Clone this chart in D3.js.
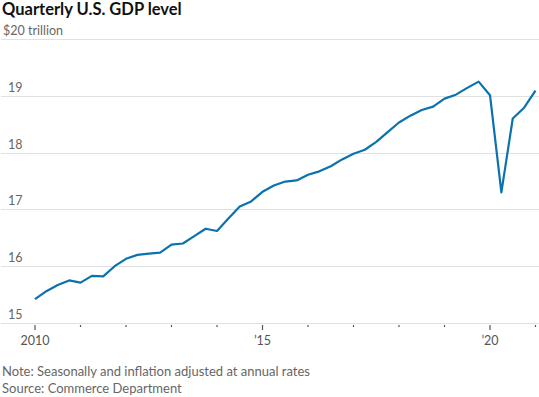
<!DOCTYPE html>
<html>
<head>
<meta charset="utf-8">
<script src="https://cdn.jsdelivr.net/npm/d3@7"></script>
<style>
  body { margin: 0; background: #fff; }
  svg { display: block; font-family: Lato, "Open Sans", sans-serif; }
  .grid line { stroke: #e1e1e1; stroke-width: 1; }
  .ylab { fill: #666; font-size: 12.5px; }
  .xlab { fill: #555; font-size: 12.5px; }
  .note { fill: #666; font-size: 13px; }
</style>
</head>
<body>
<div id="chart"></div>
<script>
var width = 539,
    height = 397;

// quarters, 2010 Q1 .. 2021 Q1, trillions of chained dollars
var startYear = 2010;
var gdp = [
  15.42, 15.56, 15.67, 15.75,
  15.71, 15.83, 15.82, 16.00,
  16.13, 16.20, 16.22, 16.24,
  16.38, 16.40, 16.53, 16.66,
  16.62, 16.84, 17.05, 17.14,
  17.31, 17.42, 17.49, 17.51,
  17.61, 17.67, 17.76, 17.88,
  17.98, 18.05, 18.19, 18.36,
  18.53, 18.65, 18.75, 18.81,
  18.95, 19.02, 19.14, 19.25,
  19.01, 17.30, 18.60, 18.79,
  19.09
];
var yTicks = [15, 16, 17, 18, 19, 20];
var years = [2010, 2011, 2012, 2013, 2014, 2015, 2016, 2017, 2018, 2019, 2020, 2021];
var yearLabels = {2010: "2010", 2015: "\u201915", 2020: "\u201920"};

var x = d3.scaleLinear()
    .domain([2010, 2021])
    .range([35, 535.5]);

var y = d3.scaleLinear()
    .domain([15, 20])
    .range([323, 39]);

var svg = d3.select("#chart").append("svg")
    .attr("width", width)
    .attr("height", height);

svg.append("text")
    .attr("x", 2)
    .attr("y", 15)
    .attr("font-size", "16.5px")
    .attr("font-weight", "bold")
    .attr("fill", "#111")
    .text("Quarterly U.S. GDP level");

// gridlines
svg.append("g")
    .attr("class", "grid")
    .selectAll("line")
    .data(yTicks)
    .enter().append("line")
    .attr("x1", 1)
    .attr("x2", width)
    .attr("y1", function (d) { return Math.round(y(d)) + 0.5; })
    .attr("y2", function (d) { return Math.round(y(d)) + 0.5; });

svg.selectAll(".ylab")
    .data(yTicks)
    .enter().append("text")
    .attr("class", "ylab")
    .attr("x", function (d) { return d == 20 ? 3 : 8; })
    .attr("y", function (d) { return y(d) - 4; })
    .text(function (d) { return d == 20 ? "$20 trillion" : d; });

// x axis ticks
var xAxis = d3.axisBottom(x)
    .tickValues(years)
    .tickSize(0)
    .tickFormat("");

svg.append("g")
    .attr("transform", "translate(0," + 324 + ")")
    .call(xAxis)
    .call(function (g) { g.select(".domain").remove(); });

svg.selectAll(".xtick")
    .data(years)
    .enter().append("line")
    .attr("class", "xtick")
    .attr("x1", function (d) { return x(d); })
    .attr("x2", function (d) { return x(d); })
    .attr("y1", 325)
    .attr("y2", function (d) { return yearLabels[d] ? 330 : 327; })
    .attr("stroke", "#555")
    .attr("stroke-width", 1.2);

svg.selectAll(".xlab")
    .data(years.filter(function (d) { return yearLabels[d]; }))
    .enter().append("text")
    .attr("class", "xlab")
    .attr("x", function (d) { return x(d); })
    .attr("y", 345)
    .attr("text-anchor", "middle")
    .text(function (d) { return yearLabels[d]; });

var line = d3.line()
    .x(function (d, i) { return x(startYear + i / 4); })
    .y(function (d) { return y(d); });

svg.append("path")
    .datum(gdp)
    .attr("d", line)
    .attr("fill", "none")
    .attr("stroke", "#0a72ad")
    .attr("stroke-width", 2.2)
    .attr("stroke-linejoin", "round");

svg.append("text")
    .attr("class", "note")
    .attr("x", 2)
    .attr("y", 376)
    .text("Note: Seasonally and inflation adjusted at annual rates");

svg.append("text")
    .attr("class", "note")
    .attr("x", 2)
    .attr("y", 393)
    .text("Source: Commerce Department");
</script>
</body>
</html>
